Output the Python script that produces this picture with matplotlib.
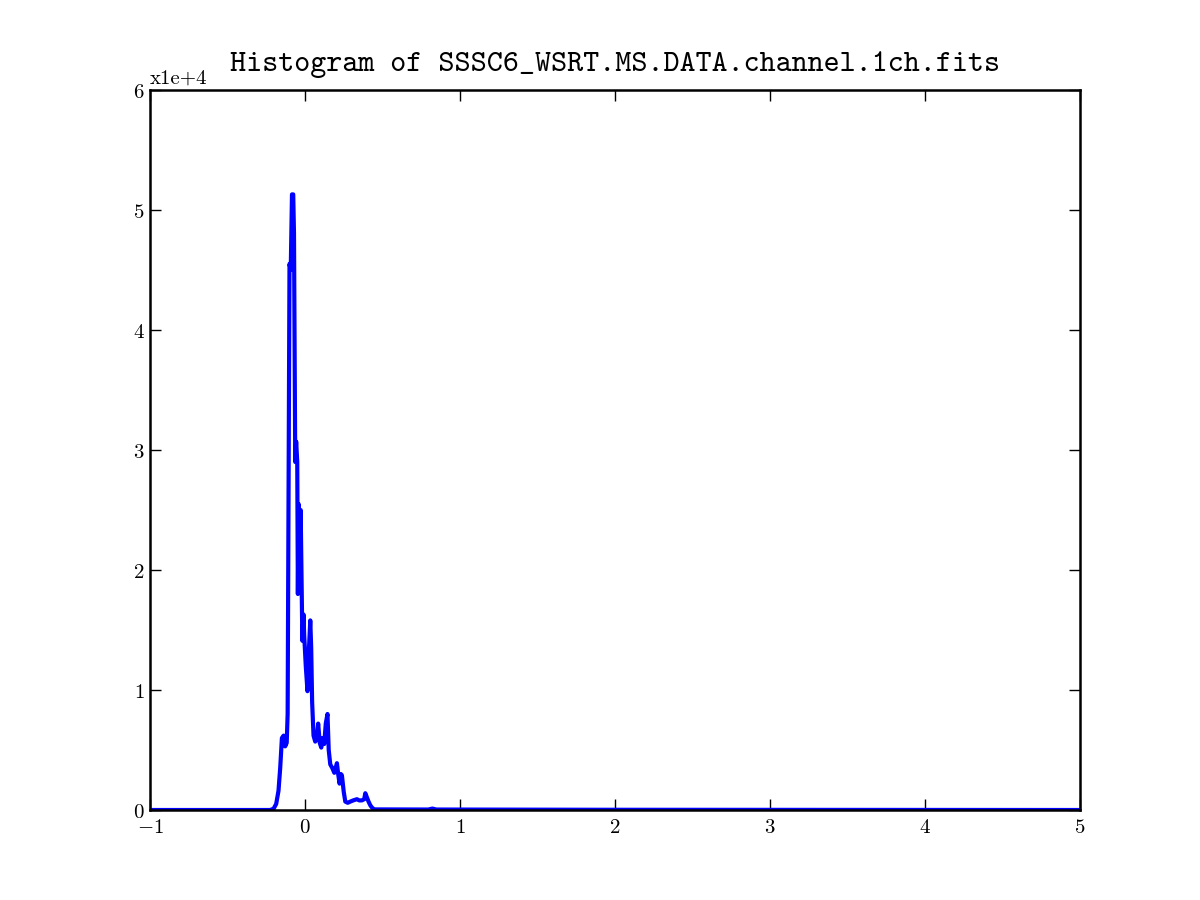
import numpy as np
import matplotlib
matplotlib.use('Agg')
import matplotlib.pyplot as plt

plt.rcParams['mathtext.fontset'] = 'cm'

# ── Histogram curve (flux value vs. pixel count) ──────────────────────────────
flux = [-1.0, -0.225, -0.203, -0.186, -0.171, -0.160, -0.149, -0.138, -0.128,
        -0.118, -0.112, -0.100, -0.092, -0.084, -0.076, -0.071, -0.063, -0.057,
        -0.050, -0.046, -0.041, -0.034, -0.028, -0.017, -0.010, -0.005, 0.005,
        0.016, 0.024, 0.034, 0.040, 0.046, 0.055, 0.066, 0.076, 0.085, 0.095,
        0.105, 0.114, 0.124, 0.134, 0.145, 0.153, 0.163, 0.176, 0.189, 0.206,
        0.214, 0.223, 0.231, 0.238, 0.250, 0.260, 0.276, 0.292, 0.311, 0.335,
        0.350, 0.367, 0.382, 0.389, 0.401, 0.410, 0.421, 0.432, 0.447, 0.796,
        0.822, 0.847, 1.9, 5.0]
counts = [0, 0, 100, 500, 1600, 3500, 6000, 6200, 5300,
          5600, 8000, 45500, 45000, 51300, 51300, 48000, 29000, 30700,
          29000, 18000, 25500, 18500, 25000, 14100, 16300, 14500, 12000,
          9900, 13000, 15800, 13500, 9000, 6200, 5700, 6000, 7200, 5600,
          5200, 6000, 5500, 7200, 8000, 5000, 3800, 3500, 3100, 3900,
          3000, 2200, 3000, 2900, 1500, 700, 600, 700, 800, 900,
          800, 800, 900, 1400, 1000, 700, 400, 200, 50, 40,
          120, 40, 20, 0]

xticks = [-1, 0, 1, 2, 3, 4, 5]
yticks = [0, 10000, 20000, 30000, 40000, 50000, 60000]
ytick_labels = ['0', '1', '2', '3', '4', '5', '6']

fig = plt.figure(figsize=(12, 9), dpi=100, facecolor='white')
ax = fig.add_axes([0.125, 0.1, 0.775, 0.8])

ax.plot(flux, counts, color='#0000ff', lw=3)

ax.set_xlim(-1, 5)
ax.set_ylim(0, 60000)
ax.set_xticks(xticks)
ax.set_xticklabels([f'${v}$' for v in xticks])
ax.set_yticks(yticks)
ax.set_yticklabels([f'${v}$' for v in ytick_labels])

ax.tick_params(direction='in', length=8, width=1, top=True, right=True,
               labelsize=15, pad=4)
ax.tick_params(axis='x', pad=5)
for sp in ax.spines.values():
    sp.set_linewidth(1.8)

ax.text(0.0, 1.004, 'x1e+4', transform=ax.transAxes, ha='left', va='bottom',
        fontsize=15, family='cmr10')

ax.set_title('Histogram of SSSC6_WSRT.MS.DATA.channel.1ch.fits',
             family='cmtt10', fontsize=22, pad=14)

fig.savefig('out.png', dpi=100, facecolor='white')
